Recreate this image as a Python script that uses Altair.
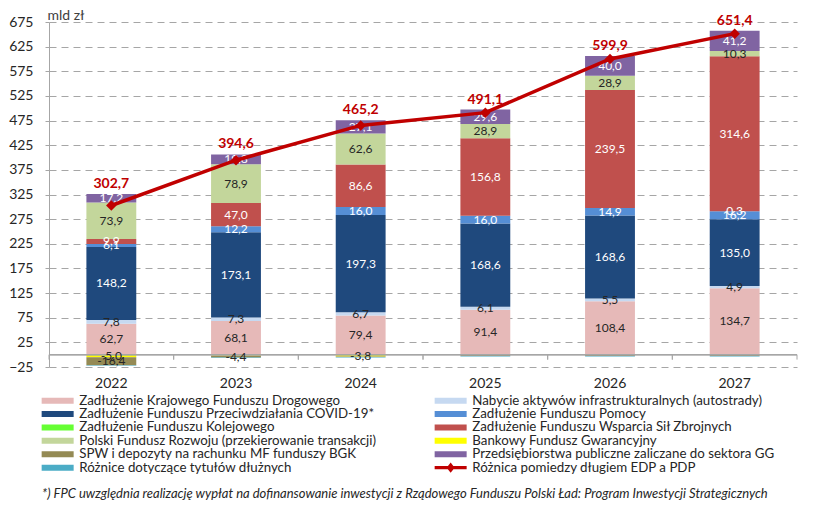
import altair as alt
import pandas as pd

years = ["2022", "2023", "2024", "2025", "2026", "2027"]

series_names = [
    "Zadłużenie Krajowego Funduszu Drogowego",
    "Nabycie aktywów infrastrukturalnych (autostrady)",
    "Zadłużenie Funduszu Przeciwdziałania COVID-19*",
    "Zadłużenie Funduszu Pomocy",
    "Zadłużenie Funduszu Kolejowego",
    "Zadłużenie Funduszu Wsparcia Sił Zbrojnych",
    "Polski Fundusz Rozwoju (przekierowanie transakcji)",
    "Bankowy Fundusz Gwarancyjny",
    "SPW i depozyty na rachunku MF funduszy BGK",
    "Przedsiębiorstwa publiczne zaliczane do sektora GG",
    "Różnice dotyczące tytułów dłużnych",
]
line_name = "Różnica pomiedzy długiem EDP a PDP"

kfd = [62.7, 68.1, 79.4, 91.4, 108.4, 134.7]
nabycie = [7.8, 7.3, 6.7, 6.1, 5.5, 4.9]
covid = [148.2, 173.1, 197.3, 168.6, 168.6, 135.0]
pomocy = [6.1, 12.2, 16.0, 16.0, 14.9, 16.2]
kolejowy = [0.0, 0.0, 0.0, 0.0, 0.0, 0.3]
wsparcia = [9.9, 47.0, 86.6, 156.8, 239.5, 314.6]
pfr = [73.9, 78.9, 62.6, 28.9, 28.9, 10.3]
bfg = [-5.0, -1.5, -3.8, 0.0, 0.0, 0.0]
spw = [-16.4, -4.4, -1.0, -2.5, -2.5, -2.5]
przeds = [17.2, 19.8, 27.1, 29.6, 40.0, 41.2]
roznice = [-1.0, -1.0, -0.8, -1.0, -1.0, -1.0]
edp_pdp = [302.7, 394.6, 465.2, 491.1, 599.9, 651.4]
y_ticks = [-25, 25, 75, 125, 175, 225, 275, 325, 375, 425, 475, 525, 575, 625, 675]

# values drawn without a data label in the original
unlabeled = {
    ("Bankowy Fundusz Gwarancyjny", "2023"),
    ("SPW i depozyty na rachunku MF funduszy BGK", "2024"),
    ("SPW i depozyty na rachunku MF funduszy BGK", "2025"),
    ("SPW i depozyty na rachunku MF funduszy BGK", "2026"),
    ("SPW i depozyty na rachunku MF funduszy BGK", "2027"),
}

footnote = ("*) FPC uwzględnia realizację wypłat na dofinansowanie inwestycji "
            "z Rządowego Funduszu Polski Ład: Program Inwestycji Strategicznych")

series_values = [kfd, nabycie, covid, pomocy, kolejowy, wsparcia, pfr,
                 bfg, spw, przeds, roznice]

color_of = {
    series_names[0]: "#E6B9B8", series_names[1]: "#C6D9F1",
    series_names[2]: "#1F497D", series_names[3]: "#558ED5",
    series_names[4]: "#66FF33", series_names[5]: "#C0504D",
    series_names[6]: "#C3D69B", series_names[7]: "#FFFF00",
    series_names[8]: "#948A54", series_names[9]: "#8064A2",
    series_names[10]: "#4BACC6", line_name: "#C00000",
}
# legend fills column by column: left column first, then right column
all_names = series_names + [line_name]
legend_order = all_names[0::2] + all_names[1::2]

light_text = {"Zadłużenie Funduszu Przeciwdziałania COVID-19*",
              "Zadłużenie Funduszu Pomocy",
              "Zadłużenie Funduszu Kolejowego",
              "Zadłużenie Funduszu Wsparcia Sił Zbrojnych",
              "Przedsiębiorstwa publiczne zaliczane do sektora GG"}


def fmt(v):
    return f"{v:.1f}".replace(".", ",")


rows = []
for i, (name, vals) in enumerate(zip(series_names, series_values)):
    for y, v in zip(years, vals):
        show = (name != "Różnice dotyczące tytułów dłużnych") and ((name, y) not in unlabeled)
        rows.append({"year": y, "series": name, "value": v, "order": i,
                     "label": fmt(v) if show else "",
                     "light": name in light_text})
df = pd.DataFrame(rows)

tops = [sum(v for v in col if v > 0) for col in zip(*series_values)]
df_line = pd.DataFrame({"year": years, "edp": edp_pdp, "top": tops,
                        "lab": [fmt(v) for v in edp_pdp]})

W, H = 748, 345
GREY = "#A6A6A6"
TXT = "#262626"

yscale = alt.Scale(domain=[-25, 675], nice=False, zero=False)
x_axis = alt.Axis(title=None, labelAngle=0, domain=False, ticks=False,
                  grid=False, labelPadding=9, labelFontSize=14,
                  labelColor=TXT, labelFont="Lato")
x_scale = alt.Scale(paddingInner=0, paddingOuter=0)
x_enc = alt.X("year:N", sort=years, scale=x_scale, axis=x_axis)
y_axis = alt.Axis(values=y_ticks, grid=True,
                  gridDash=[7, 5], gridColor=GREY, gridWidth=1,
                  domainColor=GREY, tickColor=GREY, tickSize=4,
                  labelFontSize=14, labelColor=TXT, labelPadding=12,
                  labelFont="Lato", labelOverlap=False, labelFlush=False,
                  labelBound=False,
                  title="mld zł", titleAngle=0, titleAlign="left",
                  titleBaseline="middle", titleX=-2, titleY=-7,
                  titleFontWeight="normal", titleFontSize=14,
                  titleColor="#404040", titleFont="Lato")


def Y(field):
    return alt.Y(field, scale=yscale, axis=y_axis)


rect_path = "M-4,-0.75H4V0.75H-4Z"
line_path = "M-4,-0.4H4V0.4H-4Z M0,-1.3L1,0L0,1.3L-1,0Z"

legend = alt.Legend(
    orient="none", legendX=2, legendY=372, columns=2, title=None,
    labelFont="Lato", labelFontSize=13.3, labelColor=TXT, labelLimit=600,
    symbolSize=64,
    symbolType=alt.ExprRef(
        expr=f"datum.value === '{line_name}' ? '{line_path}' : '{rect_path}'"),
    symbolStrokeWidth=0,
    columnPadding=58, rowPadding=-0.6, labelOffset=15, padding=0,
)

base = alt.Chart(df).transform_filter("datum.value != 0").transform_stack(
    stack="value", groupby=["year"], as_=["v0", "v1"],
    sort=[alt.SortField("order", order="ascending")],
).transform_calculate(mid="(datum.v0 + datum.v1) / 2")

bars = base.mark_bar(width=alt.RelativeBandSize(0.4)).encode(
    x=x_enc,
    y=Y("v0:Q"),
    y2="v1:Q",
    color=alt.Color("series:N",
                    scale=alt.Scale(domain=legend_order,
                                    range=[color_of[n] for n in legend_order]),
                    legend=legend),
)

bar_labels = base.mark_text(fontSize=12, baseline="middle", font="Lato").encode(
    x=x_enc,
    y=Y("mid:Q"),
    text="label:N",
    color=alt.condition("datum.light", alt.value("#FFFFFF"), alt.value(TXT)),
)

zero_line = alt.Chart(df_line).mark_rule(color=GREY, strokeWidth=1).encode(
    y=alt.datum(0, scale=yscale, axis=y_axis))

ticks_l = alt.Chart(df_line).mark_rule(color=GREY, strokeWidth=1).encode(
    x=alt.X("year:N", sort=years, scale=x_scale, axis=x_axis, bandPosition=0),
    y=alt.datum(0, axis=y_axis), y2=alt.datum(-10))
ticks_r = alt.Chart(df_line).mark_rule(color=GREY, strokeWidth=1).encode(
    x=alt.X("year:N", sort=years, scale=x_scale, axis=x_axis, bandPosition=1),
    y=alt.datum(0, axis=y_axis), y2=alt.datum(-10))

line = alt.Chart(df_line).mark_line(color="#C00000", strokeWidth=3.5).encode(
    x=x_enc, y=Y("edp:Q"))
points = alt.Chart(df_line).mark_point(shape="diamond", filled=True, size=110,
                                       color="#C00000", opacity=1).encode(
    x=x_enc, y=Y("edp:Q"))
line_labels = alt.Chart(df_line).mark_text(fontSize=14, fontWeight="bold",
                                           color="#C00000", dy=-10,
                                           baseline="middle", font="Lato").encode(
    x=x_enc, y=Y("top:Q"), text="lab:N")

note = alt.Chart(pd.DataFrame({"t": [footnote]})).mark_text(
    align="left", baseline="middle", fontStyle="italic", fontSize=13,
    color=TXT, font="Lato").encode(
    x=alt.value(-7), y=alt.value(472), text="t:N")

chart = alt.layer(
    bars, zero_line, ticks_l, ticks_r, bar_labels, line, points, line_labels, note
).properties(
    width=W, height=H, autosize="none",
    padding={"left": 49, "top": 22, "right": 18, "bottom": 147},
).configure(font="Lato").configure_view(stroke=None)

chart.save("out.html", embed_options={"renderer": "svg", "actions": False})
